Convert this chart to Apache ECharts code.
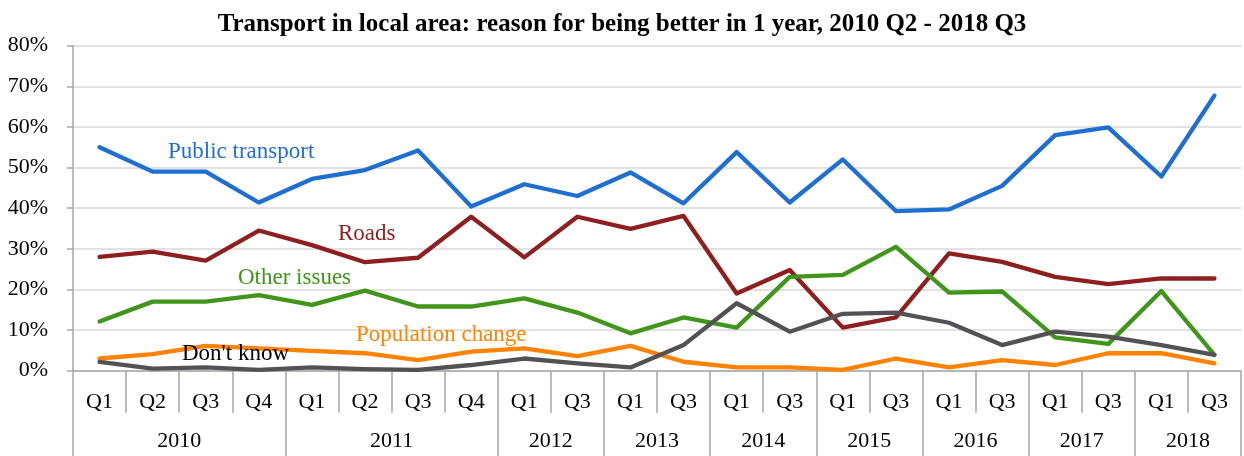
<!DOCTYPE html>
<html><head><meta charset="utf-8">
<script src="https://cdn.jsdelivr.net/npm/echarts@6/dist/echarts.min.js"></script>
<style>html,body{margin:0;padding:0;background:#fff}#c{width:1244px;height:456px}</style>
</head><body><div id="c"></div>
<script>
const quarters = ['Q1','Q2','Q3','Q4','Q1','Q2','Q3','Q4','Q1','Q3','Q1','Q3','Q1','Q3','Q1','Q3','Q1','Q3','Q1','Q3','Q1','Q3'];
const years = ['2010','2011','2012','2013','2014','2015','2016','2017','2018'];
const quartersPerYear = [4,4,2,2,2,2,2,2,2];
const yTickMax = 80;
const yTickStep = 10;

const publicTransport = [55.0,49.0,49.0,41.4,47.2,49.4,54.2,40.4,45.9,43.0,48.8,41.2,53.8,41.4,52.0,39.3,39.7,45.5,58.0,59.9,47.8,67.7];
const roads           = [28.0,29.3,27.1,34.5,30.9,26.7,27.8,37.9,27.9,37.9,34.9,38.1,19.0,24.8,10.6,13.1,28.9,26.8,23.1,21.3,22.7,22.7];
const otherIssues     = [12.1,17.0,17.0,18.6,16.2,19.7,15.8,15.8,17.8,14.3,9.2,13.1,10.6,23.1,23.6,30.5,19.2,19.5,8.2,6.6,19.6,3.9];
const populationChange= [3.0,4.1,6.1,5.5,4.9,4.3,2.6,4.7,5.5,3.6,6.1,2.2,0.8,0.8,0.2,3.0,0.8,2.6,1.4,4.3,4.3,1.8];
const dontKnow        = [2.2,0.5,0.8,0.2,0.8,0.4,0.2,1.4,3.0,1.8,0.8,6.3,16.6,9.6,14.0,14.3,11.8,6.3,9.6,8.4,6.3,3.9];

const seriesNames = ['Public transport','Roads','Other issues','Population change',"Don't know"];
const seriesData = [publicTransport, roads, otherIssues, populationChange, dontKnow];
const colors = ['#1f6fd3','#8f1f1f','#3f961a','#ff8200','#545156'];
const labelColors = ['#1f6fd3','#8f1f1f','#3f961a','#ff8200','#000000'];

// year axis built from the arrays
const boundaries = [0];
quartersPerYear.forEach(n => boundaries.push(boundaries[boundaries.length-1] + n));
const boundarySet = new Set(boundaries);
const yearData = new Array(quarters.length + 1).fill('');
years.forEach((y, i) => { yearData[boundaries[i] + quartersPerYear[i] / 2] = y; });

const FONT = '"Liberation Serif", "Times New Roman", serif';
const axisGrey = '#a6a6a6';

const chart = echarts.init(document.getElementById('c'), null, {renderer: 'canvas'});
const labelPos = [[168,152],[338,234],[238,278],[356,335],[182,354]];

chart.setOption({
  animation: false,
  backgroundColor: '#ffffff',
  title: {
    text: 'Transport in local area: reason for being better in 1 year, 2010 Q2 - 2018 Q3',
    left: 'center', top: 7,
    textStyle: {fontFamily: FONT, fontWeight: 'bold', fontSize: 25, color: '#000'}
  },
  grid: {left: 73, top: 45.7, width: 1174, height: 325, containLabel: false},
  xAxis: [{
    type: 'category', data: quarters, position: 'bottom', boundaryGap: true,
    axisLine: {show: true, lineStyle: {color: axisGrey, width: 1.5}},
    axisTick: {show: true, interval: 0, length: 42, lineStyle: {color: axisGrey, width: 1.5}},
    axisLabel: {interval: 0, margin: 21, fontFamily: FONT, fontSize: 22, color: '#000'},
    splitLine: {show: false}
  }, {
    type: 'category', data: yearData, position: 'bottom', boundaryGap: false,
    axisLine: {show: false},
    axisTick: {show: true, interval: (i) => boundarySet.has(i), length: 86, lineStyle: {color: axisGrey, width: 1.5}},
    axisLabel: {interval: 0, margin: 60, fontFamily: FONT, fontSize: 22, color: '#000'},
    splitLine: {show: false}
  }],
  yAxis: {
    type: 'value', min: 0, max: yTickMax, interval: yTickStep,
    axisLine: {show: true, lineStyle: {color: axisGrey, width: 1.5}},
    axisTick: {show: true, length: 6, lineStyle: {color: axisGrey, width: 1.5}},
    axisLabel: {margin: 25, fontFamily: FONT, fontSize: 22, color: '#000', formatter: v => v + '%'},
    splitLine: {show: true, lineStyle: {color: '#d9d9d9', width: 1.5}}
  },
  series: seriesNames.map((name, i) => ({
    name, type: 'line', data: seriesData[i], xAxisIndex: 0, yAxisIndex: 0,
    showSymbol: false, symbol: 'none', smooth: false,
    lineStyle: {color: colors[i], width: 4.3, cap: 'round', join: 'round'},
    itemStyle: {color: colors[i]}, z: 2 + i
  })),
  graphic: seriesNames.map((name, i) => ({
    type: 'text', left: labelPos[i][0], top: labelPos[i][1] - 12, z: 100,
    style: {text: name, fill: labelColors[i], font: '23px ' + FONT}
  }))
});
</script></body></html>
